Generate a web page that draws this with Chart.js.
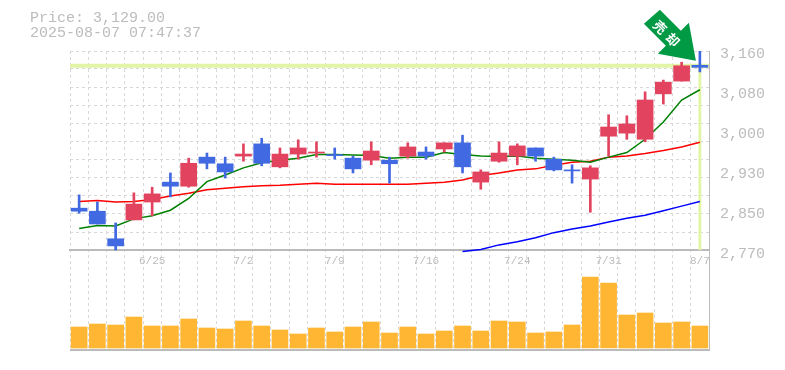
<!DOCTYPE html>
<html>
<head>
<meta charset="utf-8">
<style>
  html, body { margin: 0; padding: 0; background: #fff; }
  canvas { display: block; }
</style>
<script src="https://cdn.jsdelivr.net/npm/chart.js@4"></script>
</head>
<body>
<canvas id="stockChart" width="785" height="370"></canvas>
<script>
const headerLines = ["Price: 3,129.00", "2025-08-07 07:47:37"];
const signalText = "売却";
const lastPrice = 3129;

const dates = ["6/19","6/20","6/23","6/24","6/25","6/26","6/27","6/30","7/1","7/2","7/3","7/4","7/7","7/8","7/9","7/10","7/11","7/14","7/15","7/16","7/17","7/18","7/22","7/23","7/24","7/25","7/28","7/29","7/30","7/31","8/1","8/4","8/5","8/6","8/7"];
const shownDates = ["6/25","7/2","7/9","7/16","7/24","7/31","8/7"];
const priceLabels = ["2,770","2,850","2,930","3,000","3,080","3,160"];
const gridPrices = [3160,3125,3089,3054,3018,2983,2947,2912,2876,2841,2805,2770];

const opens  = [2852,2846,2792,2829,2864,2903,2895,2952,2939,2954,2978,2933,2958,2960,2957,2950,2946,2946,2954,2962,2968,2980,2903,2944,2954,2970,2948,2927,2909,2993,2999,2987,3076,3101,3132];
const closes = [2846,2821,2778,2860,2880,2895,2940,2940,2923,2958,2940,2958,2970,2962,2955,2929,2964,2939,2972,2954,2980,2933,2923,2960,2974,2954,2927,2925,2931,3011,3017,3064,3099,3131,3128];
const highs  = [2878,2864,2823,2882,2893,2921,2950,2960,2952,2978,2989,2970,2986,2982,2970,2954,2982,2952,2980,2972,2980,2995,2927,2982,2978,2970,2952,2937,2935,3035,3033,3080,3103,3138,3160];
const lows   = [2842,2821,2770,2829,2837,2874,2893,2929,2911,2944,2935,2931,2948,2952,2948,2921,2937,2901,2950,2948,2962,2921,2889,2942,2937,2944,2925,2901,2844,2954,2987,2982,3056,3101,3119];

const maShort = [2812,2818,2817,2831,2837,2848,2871,2904,2917,2931,2941,2946,2950,2957,2957,2956,2955,2950,2952,2952,2961,2957,2954,2953,2954,2950,2948,2946,2942,2952,2961,2987,3021,3064,3084];
const maMid   = [2865,2867,2864,2865,2869,2876,2881,2888,2891,2894,2896,2897,2899,2901,2899,2899,2899,2899,2899,2901,2903,2907,2916,2921,2927,2929,2936,2942,2944,2952,2954,2959,2965,2972,2981];
const maLong  = [null,null,null,null,null,null,null,null,null,null,null,null,null,null,null,null,null,null,null,null,null,2767,2771,2780,2786,2794,2804,2811,2817,2825,2832,2838,2847,2856,2865];

const volumes = [210,240,230,310,220,220,290,200,190,270,220,180,140,200,160,210,260,150,210,140,170,220,170,270,260,150,160,230,710,650,330,350,250,260,220];

const upColor = "#e2435f";
const downColor = "#4169e1";
const candleColors = opens.map((o, i) => closes[i] >= o ? upColor : downColor);

// header text, price guide lines and the signal arrow
const overlay = {
  id: "overlay",
  beforeDatasetsDraw(chart) {
    const { ctx, scales, chartArea } = chart;
    const px = scales.x.getPixelForValue(dates.length - 1);
    const py = scales.y.getPixelForValue(lastPrice);
    ctx.save();
    ctx.strokeStyle = "#e2f5a6";
    ctx.lineWidth = 4;
    ctx.beginPath();
    ctx.moveTo(chartArea.left, py - 1);
    ctx.lineTo(chartArea.right, py - 1);
    ctx.stroke();
    ctx.lineWidth = 3;
    ctx.beginPath();
    ctx.moveTo(px, py);
    ctx.lineTo(px, scales.y.getPixelForValue(2770));
    ctx.stroke();
    ctx.restore();
  },
  afterDraw(chart) {
    const { ctx, scales } = chart;
    const px = scales.x.getPixelForValue(dates.length - 1);
    const py = scales.y.getPixelForValue(lastPrice);
    ctx.save();
    ctx.fillStyle = "#bcbcbc";
    ctx.font = "15px 'Liberation Mono'";
    ctx.textBaseline = "middle";
    ctx.fillText(headerLines[0], 30, 18);
    ctx.fillText(headerLines[1], 30, 33);

    ctx.translate(px, py);
    ctx.fillStyle = "#009944";
    ctx.beginPath();
    ctx.moveTo(-4, -6);
    ctx.lineTo(-42, -13);
    ctx.lineTo(-34, -21);
    ctx.lineTo(-56, -43);
    ctx.lineTo(-40, -57);
    ctx.lineTo(-19, -36);
    ctx.lineTo(-11, -44);
    ctx.closePath();
    ctx.fill();

    ctx.translate(-33, -33);
    ctx.rotate(Math.PI / 4);
    ctx.fillStyle = "#fff";
    ctx.font = "bold 13px 'Noto Sans CJK JP'";
    ctx.letterSpacing = "5px";
    ctx.textAlign = "center";
    ctx.textBaseline = "middle";
    ctx.fillText(signalText, 2, 0);
    ctx.restore();
  }
};

const ctx = document.getElementById("stockChart").getContext("2d");
new Chart(ctx, {
  data: {
    labels: dates,
    datasets: [
      { type: "bar", data: volumes, yAxisID: "yVol", backgroundColor: "#ffb733", barThickness: 16, grouped: false, order: 5 },
      { type: "line", data: maLong, yAxisID: "y", borderColor: "#0000ff", borderWidth: 1.5, pointRadius: 0, order: 4 },
      { type: "line", data: maMid, yAxisID: "y", borderColor: "#ff0000", borderWidth: 1.5, pointRadius: 0, order: 3 },
      { type: "line", data: maShort, yAxisID: "y", borderColor: "#008000", borderWidth: 1.5, pointRadius: 0, order: 2 },
      { type: "bar", data: lows.map((l, i) => [l, highs[i]]), yAxisID: "y", backgroundColor: candleColors, barThickness: 2, grouped: false, order: 1 },
      { type: "bar", data: opens.map((o, i) => [o, closes[i]]), yAxisID: "y", backgroundColor: candleColors, barThickness: 16, grouped: false, order: 0 }
    ]
  },
  options: {
    responsive: false,
    animation: false,
    layout: { padding: { left: 70, top: 51, bottom: 20, right: 0 } },
    plugins: { legend: { display: false }, tooltip: { enabled: false } },
    scales: {
      x: {
        position: { y: 2770 },
        grid: { color: "#d8d8d8", offset: true, drawTicks: false, tickLength: 0 },
        border: { color: "#bbbbbb", width: 2, dash: [3, 3], dashOffset: 0 },
        ticks: {
          autoSkip: false,
          maxRotation: 0,
          padding: 5,
          color: "#bcbcbc",
          font: { family: "Liberation Mono", size: 11 },
          callback(value, index) {
            return shownDates.includes(dates[index]) ? dates[index] : "";
          }
        }
      },
      y: {
        position: "left",
        min: 2574,
        max: 3160,
        afterBuildTicks(axis) { axis.ticks = gridPrices.map(value => ({ value })); },
        afterFit(axis) { axis.width = 0; },
        ticks: { display: false },
        grid: { color: "#d8d8d8", drawTicks: false },
        border: { display: false, dash: [3, 3] }
      },
      yVol: {
        position: "left",
        min: -20,
        max: 2970,
        afterBuildTicks(axis) { axis.ticks = [{ value: -20 }]; },
        afterFit(axis) { axis.width = 0; },
        ticks: { display: false },
        grid: { color: "#bbbbbb", lineWidth: 2, drawTicks: false },
        border: { display: false }
      },
      yLabels: {
        position: "right",
        min: -2.4,
        max: 5.075,
        afterBuildTicks(axis) { axis.ticks = priceLabels.map((_, i) => ({ value: i })); },
        afterFit(axis) { axis.width = 76; },
        grid: { display: false, drawTicks: false },
        border: { color: "#bbbbbb", width: 1 },
        ticks: {
          padding: 11,
          color: "#bcbcbc",
          font: { family: "Liberation Mono", size: 15 },
          callback(value) { return priceLabels[value]; }
        }
      }
    }
  },
  plugins: [overlay]
});
</script>
</body>
</html>
